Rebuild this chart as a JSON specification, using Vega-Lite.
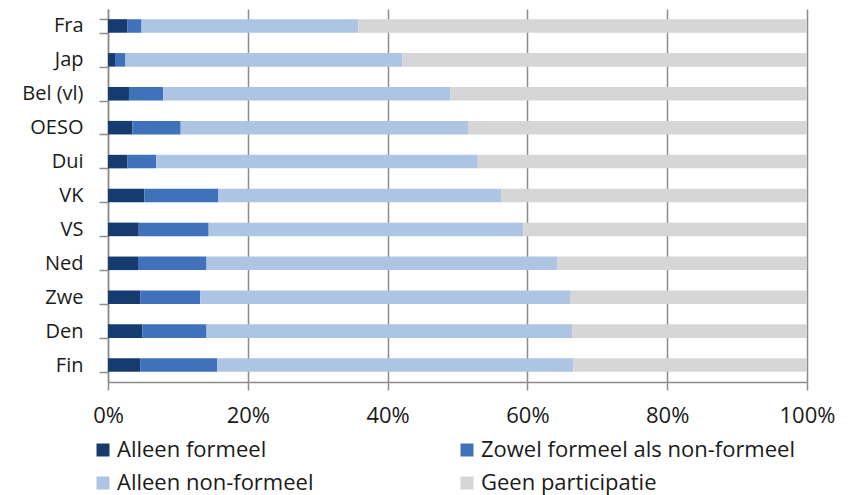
{
  "$schema": "https://vega.github.io/schema/vega-lite/v6.json",
  "autosize": {"type": "none"},
  "padding": {"left": 108, "top": 9, "right": 45, "bottom": 113},
  "width": 699,
  "height": 373,
  "background": "white",
  "data": {
    "values": [
      {"land": "Fra", "cat": "Alleen formeel", "pct": 2.8},
      {"land": "Fra", "cat": "Zowel formeel als non-formeel", "pct": 2.0},
      {"land": "Fra", "cat": "Alleen non-formeel", "pct": 31.0},
      {"land": "Fra", "cat": "Geen participatie", "pct": 64.2},
      {"land": "Jap", "cat": "Alleen formeel", "pct": 1.0},
      {"land": "Jap", "cat": "Zowel formeel als non-formeel", "pct": 1.5},
      {"land": "Jap", "cat": "Alleen non-formeel", "pct": 39.6},
      {"land": "Jap", "cat": "Geen participatie", "pct": 57.9},
      {"land": "Bel (vl)", "cat": "Alleen formeel", "pct": 3.0},
      {"land": "Bel (vl)", "cat": "Zowel formeel als non-formeel", "pct": 4.9},
      {"land": "Bel (vl)", "cat": "Alleen non-formeel", "pct": 41.1},
      {"land": "Bel (vl)", "cat": "Geen participatie", "pct": 51.0},
      {"land": "OESO", "cat": "Alleen formeel", "pct": 3.5},
      {"land": "OESO", "cat": "Zowel formeel als non-formeel", "pct": 6.9},
      {"land": "OESO", "cat": "Alleen non-formeel", "pct": 41.1},
      {"land": "OESO", "cat": "Geen participatie", "pct": 48.5},
      {"land": "Dui", "cat": "Alleen formeel", "pct": 2.8},
      {"land": "Dui", "cat": "Zowel formeel als non-formeel", "pct": 4.1},
      {"land": "Dui", "cat": "Alleen non-formeel", "pct": 46.0},
      {"land": "Dui", "cat": "Geen participatie", "pct": 47.1},
      {"land": "VK", "cat": "Alleen formeel", "pct": 5.2},
      {"land": "VK", "cat": "Zowel formeel als non-formeel", "pct": 10.6},
      {"land": "VK", "cat": "Alleen non-formeel", "pct": 40.5},
      {"land": "VK", "cat": "Geen participatie", "pct": 43.7},
      {"land": "VS", "cat": "Alleen formeel", "pct": 4.4},
      {"land": "VS", "cat": "Zowel formeel als non-formeel", "pct": 10.0},
      {"land": "VS", "cat": "Alleen non-formeel", "pct": 45.0},
      {"land": "VS", "cat": "Geen participatie", "pct": 40.6},
      {"land": "Ned", "cat": "Alleen formeel", "pct": 4.4},
      {"land": "Ned", "cat": "Zowel formeel als non-formeel", "pct": 9.7},
      {"land": "Ned", "cat": "Alleen non-formeel", "pct": 50.2},
      {"land": "Ned", "cat": "Geen participatie", "pct": 35.7},
      {"land": "Zwe", "cat": "Alleen formeel", "pct": 4.6},
      {"land": "Zwe", "cat": "Zowel formeel als non-formeel", "pct": 8.6},
      {"land": "Zwe", "cat": "Alleen non-formeel", "pct": 52.9},
      {"land": "Zwe", "cat": "Geen participatie", "pct": 33.9},
      {"land": "Den", "cat": "Alleen formeel", "pct": 4.9},
      {"land": "Den", "cat": "Zowel formeel als non-formeel", "pct": 9.2},
      {"land": "Den", "cat": "Alleen non-formeel", "pct": 52.3},
      {"land": "Den", "cat": "Geen participatie", "pct": 33.6},
      {"land": "Fin", "cat": "Alleen formeel", "pct": 4.6},
      {"land": "Fin", "cat": "Zowel formeel als non-formeel", "pct": 11.0},
      {"land": "Fin", "cat": "Alleen non-formeel", "pct": 51.0},
      {"land": "Fin", "cat": "Geen participatie", "pct": 33.4}
    ]
  },
  "transform": [
    {"calculate": "indexof(['Alleen formeel', 'Zowel formeel als non-formeel', 'Alleen non-formeel', 'Geen participatie'], datum.cat)", "as": "volgorde"}
  ],
  "mark": {"type": "bar"},
  "encoding": {
    "y": {
      "field": "land",
      "type": "nominal",
      "sort": ["Fra", "Jap", "Bel (vl)", "OESO", "Dui", "VK", "VS", "Ned", "Zwe", "Den", "Fin"],
      "scale": {"paddingInner": 0.6, "paddingOuter": 0.3},
      "axis": {
        "title": null,
        "tickBand": "extent",
        "ticks": true,
        "tickSize": 9,
        "tickColor": "#8c8c8c",
        "tickWidth": 1.5,
        "domainColor": "#8c8c8c",
        "domainWidth": 1.5,
        "labelFont": "Open Sans",
        "labelFontSize": 20,
        "labelColor": "#1a1a1a",
        "labelPadding": 16,
        "grid": false
      }
    },
    "x": {
      "field": "pct",
      "type": "quantitative",
      "stack": "zero",
      "scale": {"domain": [0, 100], "nice": false},
      "axis": {
        "title": null,
        "values": [0, 20, 40, 60, 80, 100],
        "labelExpr": "datum.value + '%'",
        "grid": true,
        "gridColor": "#8c8c8c",
        "gridWidth": 1.5,
        "domainColor": "#8c8c8c",
        "domainWidth": 1.5,
        "tickColor": "#8c8c8c",
        "tickWidth": 1.5,
        "tickSize": 8,
        "labelFont": "Open Sans",
        "labelFontSize": 22,
        "labelColor": "#1a1a1a",
        "labelPadding": 15,
        "labelFlush": false
      }
    },
    "order": {"field": "volgorde", "type": "quantitative", "sort": "ascending"},
    "color": {
      "field": "cat",
      "type": "nominal",
      "sort": ["Alleen formeel", "Zowel formeel als non-formeel", "Alleen non-formeel", "Geen participatie"],
      "scale": {
        "domain": ["Alleen formeel", "Zowel formeel als non-formeel", "Alleen non-formeel", "Geen participatie"],
        "range": ["#163b6e", "#3f72ba", "#adc4e2", "#d6d6d6"]
      },
      "legend": {
        "title": null,
        "orient": "none",
        "legendX": -16,
        "legendY": 430,
        "direction": "horizontal",
        "columns": 2,
        "columnPadding": 142,
        "rowPadding": 11,
        "symbolType": "square",
        "symbolSize": 169,
        "symbolStrokeWidth": 0,
        "labelOffset": 3,
        "labelFont": "Open Sans",
        "labelFontSize": 22,
        "labelColor": "#1a1a1a",
        "labelLimit": 0
      }
    }
  },
  "config": {"view": {"stroke": null}}
}
